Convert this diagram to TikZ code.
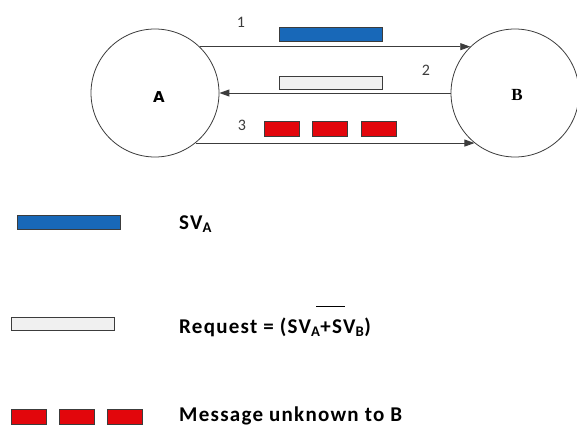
\documentclass[tikz,border=0pt]{standalone}
\usepackage{fontspec}
\setmainfont{Carlito}
\newfontfamily\labfont{DejaVu Sans}
\newfontfamily\labserif{Liberation Serif}
\usetikzlibrary{arrows.meta}
\definecolor{barblue}{RGB}{24,104,184}
\definecolor{barred}{RGB}{226,6,12}
\definecolor{bargray}{RGB}{240,240,240}
\definecolor{edgegray}{RGB}{60,60,60}
\tikzset{
  station/.style={circle,draw=edgegray,line width=0.8pt,minimum size=128pt,inner sep=0pt},
  flow/.style={draw=edgegray,line width=0.9pt,-{Triangle[length=10pt,width=7pt]}},
  numlab/.style={font=\fontsize{16}{18}\selectfont,text=edgegray,inner sep=0pt},
  bluebar/.style={draw=edgegray,fill=barblue,line width=0.6pt,minimum width=103pt,minimum height=14pt,inner sep=0pt},
  graybar/.style={draw=edgegray,fill=bargray,line width=0.6pt,minimum width=103pt,minimum height=13pt,inner sep=0pt},
  redbox/.style={draw=edgegray,fill=barred,line width=0.6pt,minimum width=35pt,minimum height=15pt,inner sep=0pt},
  legtext/.style={anchor=base west,inner sep=0pt,font=\fontsize{21}{23}\selectfont\bfseries\addfontfeatures{LetterSpace=6}}
}
\begin{document}
\begin{tikzpicture}[x=1pt,y=-1pt]
\useasboundingbox (0,0) rectangle (577,425);
% stations
\node[station] (A) at (155,93) {};
\node[station] (B) at (515,93) {};
\node[inner sep=0pt,font=\fontsize{15}{17}\labfont\bfseries] (la) at (159,97.5) {A};
\node[inner sep=0pt,font=\fontsize{17}{19}\labserif\bfseries] (lb) at (517,95) {B};
% arrows
\draw[flow] (A.46) -- (B.134);
\draw[flow] (B.west) -- (A.east);
\draw[flow] (A.-51) -- (B.-129);
% numbers
\node[numlab] (n1) at (241,22) {1};
\node[numlab] (n2) at (426,70) {2};
\node[numlab] (n3) at (242,125) {3};
% bars on arrows
\node[bluebar] (b1) at (330.5,34) {};
\node[graybar] (g1) at (330.5,82.5) {};
\node[redbox] (r1) at (281.5,128.5) {};
\node[redbox] (r2) at (329.5,128.5) {};
\node[redbox] (r3) at (378.5,128.5) {};
% legend
\node[bluebar] (lgb) at (68.5,222) {};
\node[graybar] (lgg) at (62.5,324) {};
\node[redbox] (lr1) at (28.5,416.5) {};
\node[redbox] (lr2) at (76.5,416.5) {};
\node[redbox] (lr3) at (125,416.5) {};
\node[legtext] (t1) at (179,229) {SV\textsubscript{A}};
\node[legtext] (t2) at (179,333) {Request = (SV\textsubscript{A}+SV\textsubscript{B})};
\node[legtext] (t3) at (179,421) {Message unknown to B};
\draw[line width=0.8pt] (316,306) -- (345,306);
\end{tikzpicture}
\end{document}
